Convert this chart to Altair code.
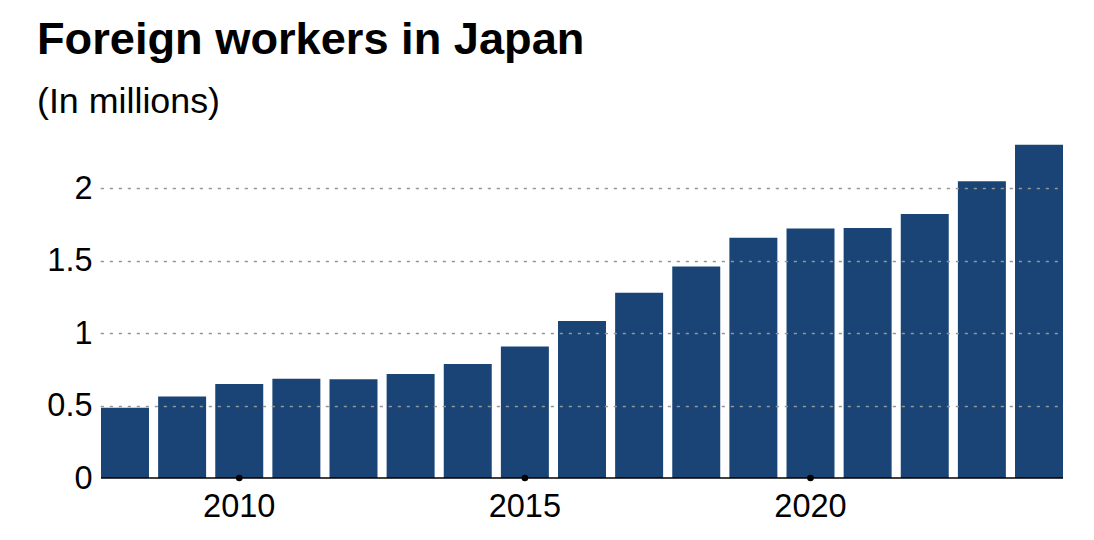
import altair as alt
import pandas as pd

years = list(range(2008, 2025))
workers = [0.486, 0.563, 0.650, 0.686, 0.682, 0.718, 0.788, 0.908, 1.084,
           1.279, 1.460, 1.659, 1.724, 1.727, 1.823, 2.049, 2.302]
tick_years = [2010, 2015, 2020]
y_ticks = [0, 0.5, 1, 1.5, 2]

FONT = "Liberation Sans"
BAR = "#1a4476"

df = pd.DataFrame({"year": years, "workers": workers})
dots = pd.DataFrame({"year": tick_years, "v": [0] * len(tick_years)})
zero = pd.DataFrame({"v": [0]})

xscale = alt.Scale(domain=years, paddingInner=0.16, paddingOuter=0)
yscale = alt.Scale(domain=[0, 2.3], nice=False)

bars = alt.Chart(df).mark_bar(color=BAR).encode(
    x=alt.X("year:O", scale=xscale, title=None,
            axis=alt.Axis(values=tick_years, labelAngle=0, ticks=False, domain=False,
                          labelFont=FONT, labelFontSize=32.5, labelColor="#000",
                          labelPadding=12, labelBaseline="top", grid=False)),
    y=alt.Y("workers:Q", scale=yscale, title=None,
            axis=alt.Axis(values=y_ticks, format="~g", ticks=False, domain=False,
                          labelFont=FONT, labelFontSize=32.5, labelColor="#000",
                          labelPadding=9, labelBaseline="middle",
                          grid=True, gridColor="#959595", gridWidth=1.7,
                          gridDash=[1.7, 7.3], gridCap="round",
                          gridOpacity=alt.condition("datum.value == 0", alt.value(0), alt.value(1)),
                          zindex=1)),
)

rule = alt.Chart(zero).mark_rule(color="#000", strokeWidth=1.6).encode(
    y=alt.Y("v:Q", scale=yscale)
)

points = alt.Chart(dots).mark_circle(color="#000", size=44, opacity=1).encode(
    x=alt.X("year:O", scale=xscale),
    y=alt.Y("v:Q", scale=yscale),
)

chart = alt.layer(bars, rule, points).properties(
    width=962,
    height=333,
    autosize="none",
    padding={"left": 93, "top": 137, "right": 20, "bottom": 54},
    title=alt.TitleParams(
        text="Foreign workers in Japan",
        subtitle="(In millions)",
        anchor="start",
        frame="group",
        dx=-64,
        offset=25,
        font=FONT,
        fontSize=45.2,
        fontWeight="bold",
        color="#000",
        subtitleFont=FONT,
        subtitleFontSize=35.8,
        subtitleColor="#000",
        subtitlePadding=22,
    ),
).configure(background="#ffffff").configure_view(stroke=None, strokeWidth=0)

chart.save("out.html", embed_options={"renderer": "svg", "actions": False})
